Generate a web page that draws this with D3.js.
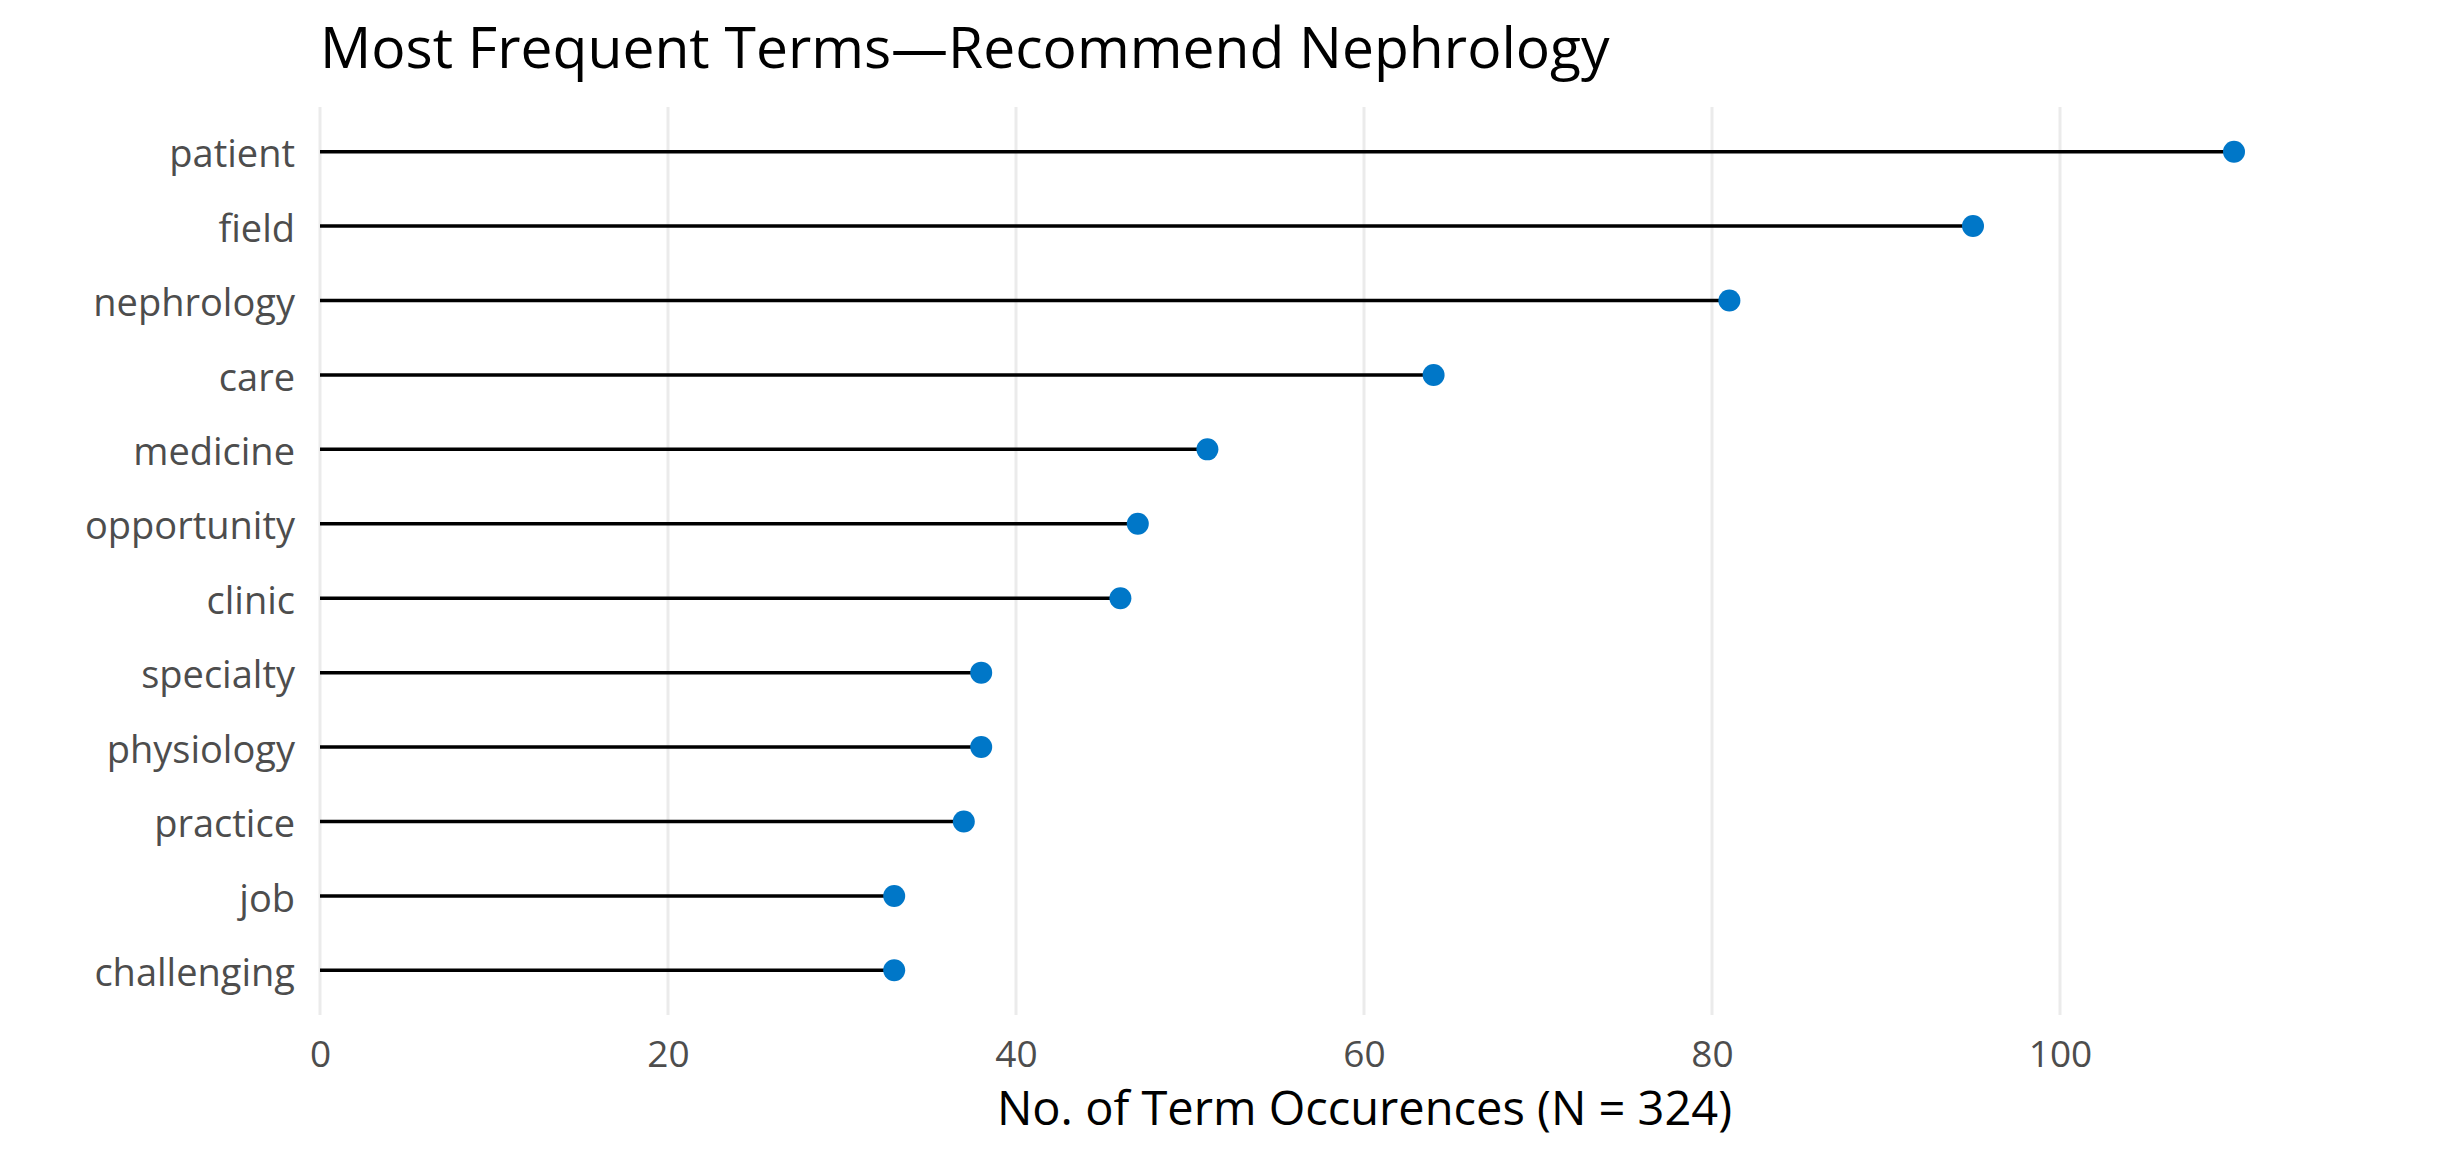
<!DOCTYPE html>
<html>
<head>
<meta charset="utf-8">
<script src="https://cdn.jsdelivr.net/npm/d3@7"></script>
<style>
  body { margin: 0; background: #fff; }
  text { font-family: "Open Sans", "Noto Sans", sans-serif; }
</style>
</head>
<body>
<svg id="chart" width="2440" height="1162"></svg>
<script>
// terms, top to bottom
var terms = ['patient', 'field', 'nephrology', 'care', 'medicine', 'opportunity',
    'clinic', 'specialty', 'physiology', 'practice', 'job', 'challenging'];
var counts = [110, 95, 81, 64, 51, 47, 46, 38, 38, 37, 33, 33];
var xTicks = [0, 20, 40, 60, 80, 100];

var data = terms.map(function (t, i) {
    return { term: t, n: counts[i] };
});

var svg = d3.select('#chart');

// panel edges
var panel = { l: 320, r: 2321, t: 107, b: 1015 };

var xScale = d3.scaleLinear().domain([0, 115]).range([panel.l, panel.r]);
var yScale = d3.scalePoint().domain(terms).range([panel.t, panel.b]).padding(0.6);

// vertical gridlines
svg.append('g').selectAll('line')
    .data(xTicks)
    .enter().append('line')
    .attr('x1', d => xScale(d)).attr('x2', d => xScale(d))
    .attr('y1', panel.t).attr('y2', panel.b)
    .attr('stroke', '#ebebeb')
    .attr('stroke-width', 3);

// x tick labels
var xAxis = d3.axisBottom(xScale).tickValues(xTicks).tickSize(0).tickPadding(0);
var xg = svg.append('g')
    .attr('transform', 'translate(0,' + 1067 + ')')
    .call(xAxis);
xg.select('.domain').remove();
xg.selectAll('text')
    .attr('dy', 0)
    .attr('fill', '#4d4d4d')
    .style('font-size', '37px');

// y labels
var yAxis = d3.axisLeft(yScale).tickSize(0).tickPadding(0);
var yg = svg.append('g')
    .attr('transform', 'translate(295,0)')
    .call(yAxis);
yg.select('.domain').remove();
yg.selectAll('text')
    .attr('dy', '0.4em')
    .attr('fill', '#4d4d4d')
    .style('font-size', '38px');

// lollipop stems
svg.append('g').selectAll('line')
    .data(data)
    .enter().append('line')
    .attr('x1', xScale(0))
    .attr('x2', d => xScale(d.n))
    .attr('y1', d => yScale(d.term))
    .attr('y2', d => yScale(d.term))
    .attr('stroke', '#000')
    .attr('stroke-width', 3.5);

// dots
svg.append('g').selectAll('circle')
    .data(data)
    .enter().append('circle')
    .attr('cx', d => xScale(d.n))
    .attr('cy', d => yScale(d.term))
    .attr('r', 11)
    .attr('fill', '#0077c8');

// title
svg.append('text')
    .attr('x', 320)
    .attr('y', 68)
    .attr('fill', '#000')
    .style('font-size', '57px')
    .text('Most Frequent Terms\u2014Recommend Nephrology');

// x axis title
svg.append('text')
    .attr('x', (991 + 1738) / 2)
    .attr('y', 1125)
    .attr('text-anchor', 'middle')
    .attr('fill', '#000')
    .style('font-size', '47px')
    .text('No. of Term Occurences (N = 324)');
</script>
</body>
</html>
